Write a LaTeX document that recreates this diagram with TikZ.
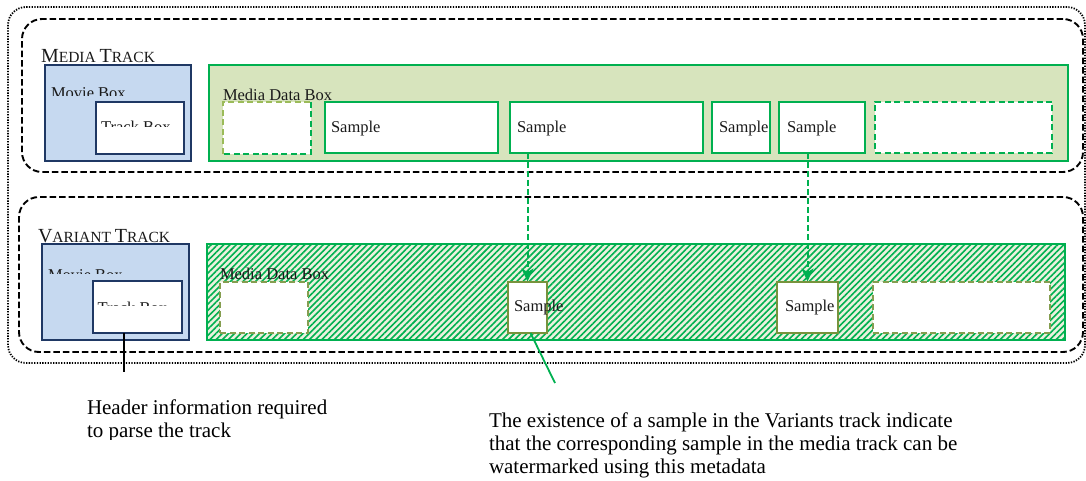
\documentclass[tikz,border=0pt]{standalone}
\usepackage{fontspec}
\setmainfont{Liberation Serif}
\usetikzlibrary{arrows.meta,patterns.meta}
\definecolor{navy}{HTML}{1F3864}
\definecolor{movfill}{HTML}{C6D9F0}
\definecolor{mdbfill}{HTML}{D7E4BD}
\definecolor{grn}{HTML}{00B050}
\definecolor{olv}{HTML}{77933C}
\definecolor{olvlt}{HTML}{9BBB59}
\definecolor{hatchbg}{HTML}{EBF1DE}
\definecolor{txt}{HTML}{1A1A1A}
\newcommand{\mybigcap}[1]{{\fontsize{20}{22}\selectfont #1}}
\begin{document}
\begin{tikzpicture}[x=1pt,y=-1pt,
  every node/.style={inner sep=0pt,outer sep=0pt},
  wh/.style 2 args={minimum width=#1pt,minimum height=#2pt,anchor=north west},
  outerbox/.style={draw=black,line width=1.8pt,dash pattern=on 1.3pt off 1.4pt,rounded corners=18pt},
  trackbox/.style={draw=black,line width=1.9pt,dash pattern=on 6.5pt off 3pt,rounded corners=20pt},
  movbox/.style={draw=navy,line width=1.8pt,fill=movfill},
  trkbox/.style={draw=navy,line width=2.4pt,fill=white},
  mdb/.style={draw=grn,line width=2pt,fill=mdbfill},
  hmdb/.style={draw=grn,line width=2pt,preaction={fill=hatchbg},pattern={Lines[angle=45,distance=4.4pt,line width=1.6pt]},pattern color=grn},
  smp/.style={draw=grn,line width=2pt,fill=white},
  vsmp/.style={draw=olv,line width=2pt,fill=white},
  emptybox/.style={fill=white},
  dsh/.style={line width=2pt,dash pattern=on 6pt off 3.5pt},
  lbl/.style={text=txt,font=\fontsize{16.5}{19}\selectfont},
  title/.style={text=txt,font=\fontsize{15.5}{18}\selectfont},
  capt/.style={text=black,font=\fontsize{21}{23}\selectfont},
  arr/.style={draw=grn,line width=2pt,dash pattern=on 6pt off 3pt,-{Stealth[length=13pt,width=12pt,inset=3.5pt,fill=grn]}},
  ptr/.style={draw=black,line width=1.8pt},
  gptr/.style={draw=grn,line width=1.8pt}]
\useasboundingbox (0,0) rectangle (1086,481);

% containers
\node[outerbox,wh={1077}{356}] (outer) at (8,7) {};
\node[trackbox,wh={1061}{153}] (mtrack) at (22,19) {};
\node[trackbox,wh={1064}{155}] (vtrack) at (19,197) {};

% titles
\node[title,anchor=base west] (mtitle) at (41,63) {\mybigcap{M}EDIA \mybigcap{T}RACK};
\node[title,anchor=base west] (vtitle) at (38,242) {\mybigcap{V}ARIANT \mybigcap{T}RACK};

% ---------- media track ----------
\node[movbox,wh={146}{96}] (mmov) at (45,65) {};
\begin{scope}
\clip (45,80) rectangle (191,95.5);
\node[lbl,anchor=base west] (mmovt) at (51,99) {Movie Box};
\end{scope}
\node[trkbox,wh={88}{52}] (mtrk) at (96,102) {};
\begin{scope}
\clip (96,110) rectangle (184,126.5);
\node[lbl,anchor=base west] (mtrkt) at (101,133) {Track Box};
\end{scope}

\node[mdb,wh={859}{96}] (mmdb) at (209,65) {};
\node[lbl,anchor=base west] (mmdbt) at (223,101) {Media Data Box};

\node[emptybox,wh={88}{52}] (ms0) at (223,102) {};
\draw[dsh,draw=olvlt] (ms0.south west) |- (ms0.north east);
\draw[dsh,draw=grn] (ms0.north east) |- (ms0.south west);
\node[smp,wh={173}{51}] (ms1) at (325,102) {};
\node[smp,wh={193}{51}] (ms2) at (510,102) {};
\node[smp,wh={58}{51}] (ms3) at (712,102) {};
\node[smp,wh={86}{51}] (ms4) at (779,102) {};
\node[emptybox,dsh,draw=grn,wh={177}{51}] (ms5) at (875,102) {};
\node[lbl,anchor=base west] (ms1t) at ([xshift=6pt,yshift=-5.5pt]ms1.west) {Sample};
\node[lbl,anchor=base west] (ms2t) at ([xshift=7pt,yshift=-5.5pt]ms2.west) {Sample};
\node[lbl,anchor=base west] (ms3t) at ([xshift=7pt,yshift=-5.5pt]ms3.west) {Sample};
\node[lbl,anchor=base west] (ms4t) at ([xshift=8pt,yshift=-5.5pt]ms4.west) {Sample};

% ---------- variant track ----------
\node[movbox,wh={147}{96}] (vmov) at (42,244) {};
\begin{scope}
\clip (42,260) rectangle (189,273);
\node[lbl,anchor=base west] (vmovt) at (48,280) {Movie Box};
\end{scope}
\node[trkbox,wh={89}{52}] (vtrk) at (93,281) {};
\begin{scope}
\clip (93,290) rectangle (182,305.5);
\node[lbl,anchor=base west] (vtrkt) at (97.5,313) {Track Box};
\end{scope}

\node[hmdb,wh={858}{96}] (vmdb) at (207,244) {};
\node[lbl,anchor=base west] (vmdbt) at (220,279.5) {Media Data Box};

\node[emptybox,dsh,draw=olv!90,wh={88}{51}] (vs0) at (220,281.5) {};
\node[vsmp,wh={39}{51.5}] (vs1) at (508,281.5) {};
\node[vsmp,wh={61}{51.5}] (vs2) at (777,281.5) {};
\node[emptybox,dsh,draw=olv!90,wh={177}{51}] (vs3) at (873,281.5) {};
\node[lbl,anchor=base west] (vs1t) at ([xshift=6pt,yshift=-4.5pt]vs1.west) {Sample};
\node[lbl,anchor=base west] (vs2t) at ([xshift=8pt,yshift=-4.5pt]vs2.west) {Sample};

% ---------- connectors ----------
\draw[arr] (vs1.north |- ms2.south) -- (vs1.north);
\draw[arr] (vs2.north |- ms4.south) -- (vs2.north);

\coordinate (hdrpt) at (124,372);
\draw[ptr] (vtrk.south -| hdrpt) -- (hdrpt);
\coordinate (wmpt) at (555,383);
\draw[gptr] ([xshift=3pt]vs1.south) -- (wmpt);

% ---------- captions ----------
\begin{scope}
\clip (80,385) rectangle (420,439);
\node[capt,anchor=base west] (hdr1) at (87,414) {Header information required};
\node[capt,anchor=base west] (hdr2) at (87,437) {to parse the track};
\end{scope}
\node[capt,anchor=base west] (wm1) at (489,427) {The existence of a sample in the Variants track indicate};
\node[capt,anchor=base west] (wm2) at (489,450) {that the corresponding sample in the media track can be};
\node[capt,anchor=base west] (wm3) at (489,473) {watermarked using this metadata};
\end{tikzpicture}
\end{document}
